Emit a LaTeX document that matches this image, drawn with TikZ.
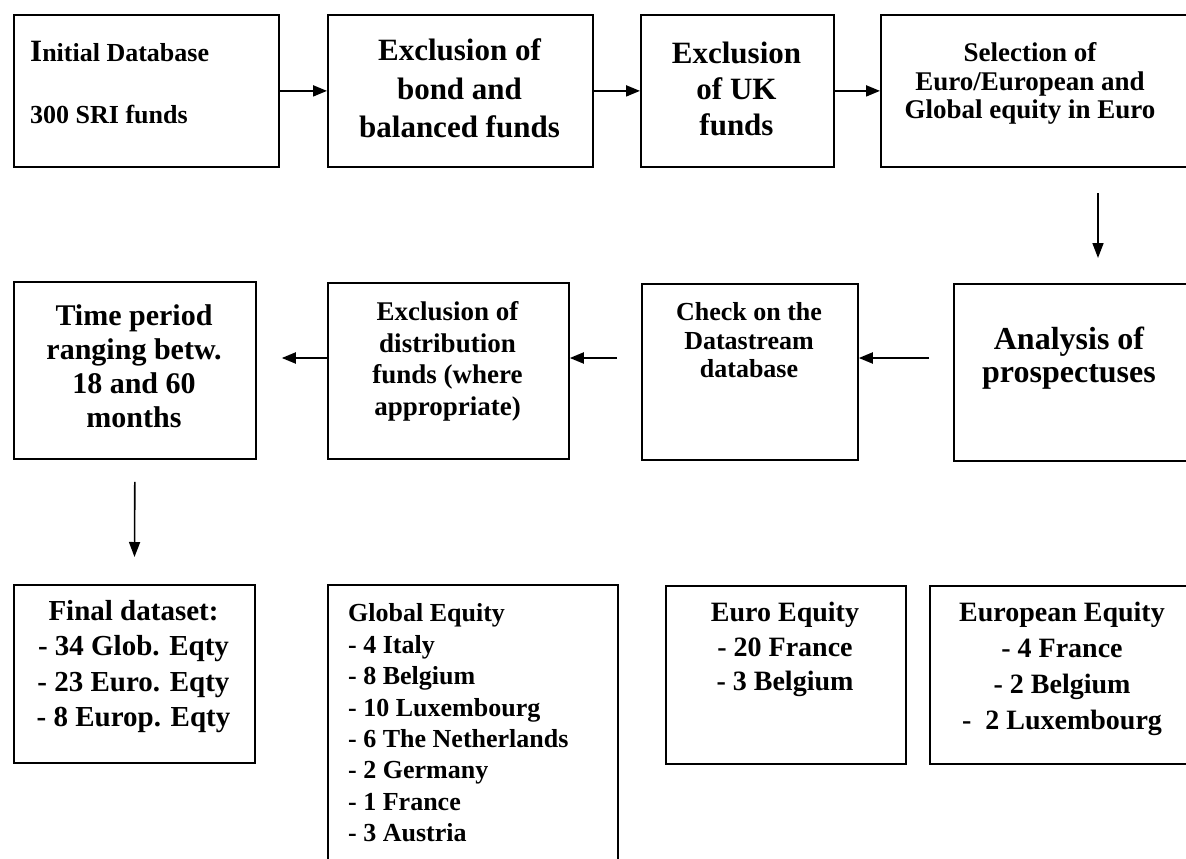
\documentclass[tikz,border=0pt]{standalone}
\usepackage{fontspec}
\setmainfont{Liberation Serif}
\usetikzlibrary{arrows.meta}
\begin{document}
\begin{tikzpicture}[x=1pt,y=-1pt,
  boxs/.style={draw, line width=1.8pt, inner sep=0pt, anchor=north west},
  txt/.style={inner sep=0pt, align=center},
  arr/.style={line width=2pt, -{Triangle[length=14pt,width=11pt]}},
  varr/.style={line width=1.6pt, -{Triangle[length=15pt,width=11pt]}},
]
\useasboundingbox (0,0) rectangle (1186,859);
\clip (0,0) rectangle (1186,859);
% row 1 boxes
\node[boxs, minimum width=265pt, minimum height=152pt] (b1) at (13,14) {};
\node[boxs, minimum width=265pt, minimum height=152pt] (b2) at (327,14) {};
\node[boxs, minimum width=193pt, minimum height=152pt] (b3) at (640,14) {};
\node[boxs, minimum width=320pt, minimum height=152pt] (b4) at (880,14) {};
% row 1 texts
\node[txt, anchor=west, align=left, font=\bfseries\fontsize{26}{62}\selectfont] (t1) at (30,83)
  {{\fontsize{31}{31}\selectfont I}nitial Database\\300 SRI funds};
\node[txt, font=\bfseries\fontsize{31}{38.5}\selectfont] (t2) at (459.5,88.5)
  {Exclusion of\\bond and\\balanced funds};
\node[txt, font=\bfseries\fontsize{31}{36}\selectfont] (t3) at (736.5,89)
  {Exclusion\\of UK\\funds};
\node[txt, font=\bfseries\fontsize{27}{28.5}\selectfont] (t4) at (1030,83.5)
  {Selection of\\Euro/European and\\Global equity in Euro};
% row 2 boxes
\node[boxs, minimum width=242pt, minimum height=177pt] (tm) at (13,281) {};
\node[boxs, minimum width=241pt, minimum height=176pt] (ex) at (327,282) {};
\node[boxs, minimum width=216pt, minimum height=176pt] (ck) at (641,283) {};
\node[boxs, minimum width=250pt, minimum height=177pt] (an) at (953,283) {};
% row 2 texts
\node[txt, font=\bfseries\fontsize{30}{34}\selectfont] (tmt) at (134,366)
  {Time period\\ranging betw.\\18 and 60\\months};
\node[txt, font=\bfseries\fontsize{27}{31.7}\selectfont] (ext) at (447.5,361.5)
  {Exclusion of\\distribution\\funds (where\\appropriate)};
\node[txt, font=\bfseries\fontsize{26}{28.5}\selectfont] (ckt) at (749,340.5)
  {Check on the\\Datastream\\database};
\node[txt, font=\bfseries\fontsize{32}{33}\selectfont] (ant) at (1069,358)
  {Analysis of\\prospectuses};
% row 3 boxes
\node[boxs, minimum width=241pt, minimum height=178pt] (fi) at (13,584) {};
\node[boxs, minimum width=290pt, minimum height=320pt] (gl) at (327,584) {};
\node[boxs, minimum width=240pt, minimum height=178pt] (eu) at (665,585) {};
\node[boxs, minimum width=265pt, minimum height=178pt] (ep) at (929,585) {};
% row 3 texts
\node[txt, font=\bfseries\fontsize{29}{35.3}\selectfont] (fit) at (133.5,666.5)
  {Final dataset:\\- 34 Glob. Eqty\\- 23 Euro. Eqty\\- 8 Europ. Eqty};
\node[txt, anchor=west, align=left, font=\bfseries\fontsize{26}{31.4}\selectfont] (glt) at (348,723)
  {Global Equity\\- 4 Italy\\- 8 Belgium\\- 10 Luxembourg\\- 6 The Netherlands\\- 2 Germany\\- 1 France\\- 3 Austria};
\node[txt, font=\bfseries\fontsize{28}{34.5}\selectfont] (eut) at (785,649.5)
  {Euro Equity\\- 20 France\\- 3 Belgium};
\node[txt, font=\bfseries\fontsize{28}{36}\selectfont] (ept) at (1062,668.5)
  {European Equity\\- 4 France\\- 2 Belgium\\-\ \ 2 Luxembourg};
% connectors
\draw[arr] (b1.east) -- (b2.west);
\draw[arr] (b2.east) -- (b3.west);
\draw[arr] (b3.east) -- (b4.west);
\coordinate (d1) at (1098,193);
\draw[varr, shorten >=25pt] (d1) -- (d1 |- an.north);
\coordinate (r2) at (0,358);
\draw[arr, shorten <=24pt] (an.west |- r2) -- (ck.east |- r2);
\draw[arr, shorten <=24pt] (ck.west |- r2) -- (ex.east |- r2);
\draw[arr, shorten >=25pt] (ex.west |- r2) -- (tm.east |- r2);
\draw[varr, shorten <=22pt, shorten >=27pt] (tm.south) -- (fi.north);
\end{tikzpicture}
\end{document}
